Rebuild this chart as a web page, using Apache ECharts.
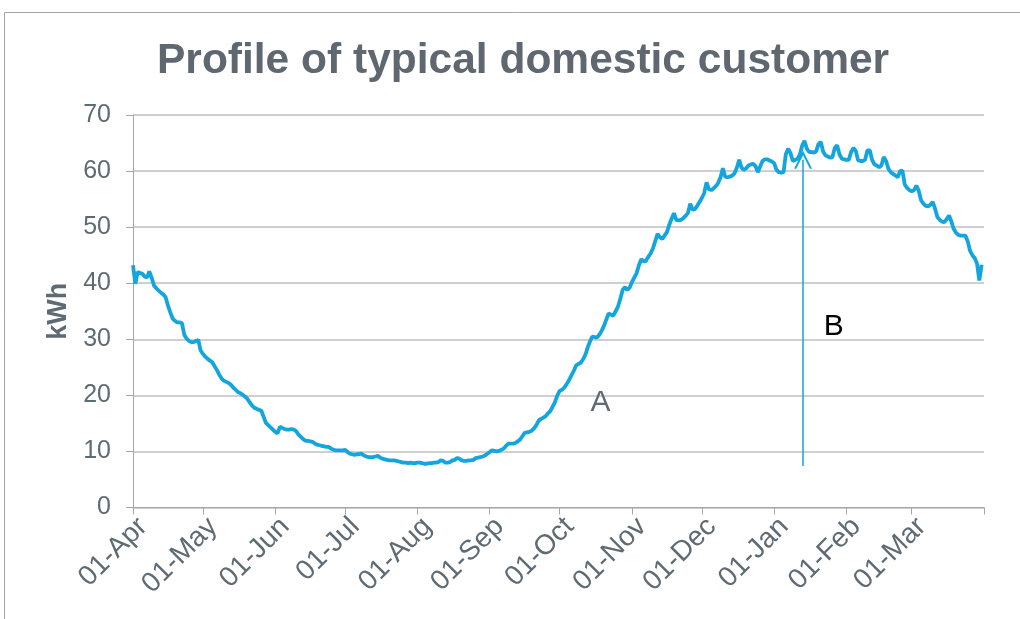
<!DOCTYPE html>
<html>
<head>
<meta charset="utf-8">
<script src="https://cdn.jsdelivr.net/npm/echarts@6/dist/echarts.min.js"></script>
<style>html,body{margin:0;padding:0;background:#fff}#c{width:1020px;height:619px}</style>
</head>
<body>
<div id="c"></div>
<script>
// Month tick labels and their day offsets from 01-Apr
var monthLabels = ['01-Apr','01-May','01-Jun','01-Jul','01-Aug','01-Sep','01-Oct','01-Nov','01-Dec','01-Jan','01-Feb','01-Mar'];
var monthStarts = [0,30,61,91,122,153,183,214,244,275,306,334];
var yearEnd = 365;
var yTicks = [0,10,20,30,40,50,60,70];

// Daily consumption (kWh), day 0 = 01-Apr ... day 364 = 31-Mar
var kwh = [
43.2,39.9,42.0,41.8,41.7,41.2,41.0,
42.1,41.0,39.6,39.1,38.7,38.3,38.0,
37.5,36.0,34.8,33.7,33.3,33.0,33.0,
32.9,30.8,30.1,29.7,29.5,29.5,29.7,
29.9,28.0,27.4,26.9,26.5,26.2,25.9,
25.2,24.5,23.7,23.0,22.6,22.4,22.2,
21.9,21.4,21.0,20.6,20.4,20.1,19.8,
19.4,18.8,18.2,17.8,17.6,17.4,17.3,
16.2,15.1,14.7,14.3,13.9,13.5,13.2,
14.4,14.2,14.0,13.9,13.9,14.0,13.9,
13.6,13.0,12.6,12.2,11.9,11.9,11.8,
11.7,11.4,11.2,11.1,11.0,10.9,10.8,
10.8,10.5,10.3,10.2,10.2,10.2,10.2,
10.3,9.9,9.6,9.5,9.4,9.5,9.5,
9.6,9.3,9.1,9.0,9.0,9.0,9.1,
9.2,8.9,8.7,8.6,8.5,8.4,8.4,
8.4,8.3,8.2,8.1,8.0,8.0,7.9,
8.0,7.9,7.9,8.0,8.0,7.9,7.8,
7.8,7.9,7.9,8.0,8.0,8.1,8.4,
8.3,8.0,8.0,8.1,8.4,8.5,8.8,
8.7,8.4,8.3,8.3,8.4,8.4,8.5,
8.8,8.9,9.0,9.1,9.3,9.6,9.9,
10.2,10.1,10.0,10.1,10.3,10.5,11.0,
11.4,11.4,11.4,11.5,11.8,12.1,12.7,
13.3,13.4,13.5,13.7,14.1,14.7,15.5,
15.8,16.0,16.3,16.8,17.2,18.0,18.8,
20.0,20.8,21.0,21.4,22.0,22.7,23.5,
24.3,25.3,25.6,25.8,26.4,27.2,28.5,
29.6,30.5,30.4,30.3,30.8,31.5,32.4,
33.5,34.6,34.4,34.2,35.0,35.8,37.2,
38.8,39.3,38.8,39.2,40.2,41.0,41.8,
43.2,44.3,43.9,44.0,44.7,45.3,46.2,
47.5,48.8,48.2,47.9,48.5,49.1,50.4,
51.5,52.5,51.3,51.2,51.3,51.6,52.0,
52.5,54.2,53.1,53.2,53.8,54.5,55.2,
56.1,58.0,56.8,56.6,56.9,57.3,57.9,
58.9,60.5,59.0,58.9,59.0,59.2,59.6,
60.6,62.0,60.6,60.2,60.5,61.0,61.2,
61.3,60.9,59.8,60.8,61.8,62.1,62.1,
61.9,61.7,61.4,60.2,59.8,59.7,59.8,
63.0,64.0,63.2,61.8,62.0,62.2,62.9,
64.5,65.4,64.0,63.4,63.4,63.3,63.5,
64.8,65.2,63.5,62.8,62.6,62.4,62.5,
64.1,64.6,63.0,62.2,62.1,62.0,62.0,
63.4,64.1,63.6,61.9,61.8,61.8,62.0,
63.7,63.7,62.0,61.2,61.0,60.7,61.0,
62.5,61.8,60.4,59.8,59.5,59.2,58.9,
60.0,60.1,57.6,57.0,56.6,56.4,56.6,
57.4,56.5,54.8,54.2,53.8,53.7,54.0,
54.5,53.3,51.8,51.3,51.0,50.9,51.4,
52.1,51.0,49.7,49.0,48.6,48.5,48.5,
48.5,47.5,45.8,45.0,44.5,43.5,40.5,
43.3
];

// Annotations
var arrowDay = 287.4, arrowFrom = 7.4, arrowTo = 62.0;
var labelA = {text:'A', day:200.5, value:18.6};
var labelB = {text:'B', day:300.6, value:32.2};

var lineColor = '#13A5DD';
var textGray = '#5F6B73';
var gridGray = '#BFBFBF';
var axisGray = '#A6A6A6';
var font = 'Liberation Sans, Arial, sans-serif';

var seriesData = kwh.map(function(v, i){ return [i, v]; });

var chart = echarts.init(document.getElementById('c'), null, {renderer:'canvas'});
chart.setOption({
  animation: false,
  backgroundColor: '#fff',
  title: {
    text: 'Profile of typical domestic customer',
    left: 152,
    top: 35,
    textStyle: {fontFamily:font, fontSize:42.5, fontWeight:'bold', color:'#5F6870'}
  },
  graphic: [{
    type:'rect', silent:true, z:-1,
    shape:{x:4.5, y:12.5, width:1100, height:700},
    style:{fill:'none', stroke:axisGray, lineWidth:1}
  }],
  grid: {left:133, right:36, top:115, bottom:111.5, containLabel:false},
  xAxis: {
    type:'value', min:0, max:yearEnd,
    axisLine:{show:true, lineStyle:{color:axisGray, width:1}},
    axisTick:{show:true, length:7, lineStyle:{color:axisGray}, customValues: monthStarts.concat([yearEnd])},
    splitLine:{show:false},
    axisLabel:{
      customValues: monthStarts,
      rotate:45, margin:5, verticalAlign:'top',
      fontFamily:font, fontSize:28, color:textGray,
      formatter:function(v){ var k = monthStarts.indexOf(Math.round(v)); return k>=0 ? monthLabels[k] : ''; }
    }
  },
  yAxis: {
    type:'value', min:0, max:70, interval:10,
    name:'kWh', nameLocation:'middle', nameGap:58, nameRotate:90,
    nameTextStyle:{fontFamily:font, fontSize:27, fontWeight:'bold', color:textGray},
    axisLine:{show:true, lineStyle:{color:axisGray, width:1}},
    axisTick:{show:true, inside:false, length:7, lineStyle:{color:axisGray}},
    splitLine:{show:true, lineStyle:{color:gridGray, width:1.5}},
    axisLabel:{margin:22, fontFamily:font, fontSize:25, color:textGray,
      formatter:function(v){ return yTicks.indexOf(v)>=0 ? String(v) : ''; }}
  },
  series: [{
    type:'line',
    data: seriesData,
    showSymbol:false,
    smooth:false,
    lineStyle:{color:lineColor, width:3.8},
    itemStyle:{color:lineColor},
    z:3,
    markPoint:{
      silent:true, animation:false,
      symbol:'circle', symbolSize:1,
      itemStyle:{color:'rgba(0,0,0,0)'},
      label:{show:true, position:'inside', fontFamily:font, fontSize:30},
      data:[
        {coord:[labelA.day, labelA.value], value:labelA.text, label:{color:textGray, formatter:labelA.text}},
        {coord:[labelB.day, labelB.value], value:labelB.text, label:{color:'#000', formatter:labelB.text}}
      ]
    }
  }, {
    type:'line',
    data: [],
    z:10,
    markLine:{
      silent:true, animation:false, z:10,
      symbol:['none','path://M5,0 L10,12 L8.8,12 L5,3 L1.2,12 L0,12 Z'],
      symbolSize:[18,18],
      label:{show:false},
      lineStyle:{color:lineColor, width:1.5, type:'solid'},
      itemStyle:{color:lineColor},
      data:[[{coord:[arrowDay, arrowFrom]},{coord:[arrowDay, arrowTo]}]]
    }
  }]
});
</script>
</body>
</html>
